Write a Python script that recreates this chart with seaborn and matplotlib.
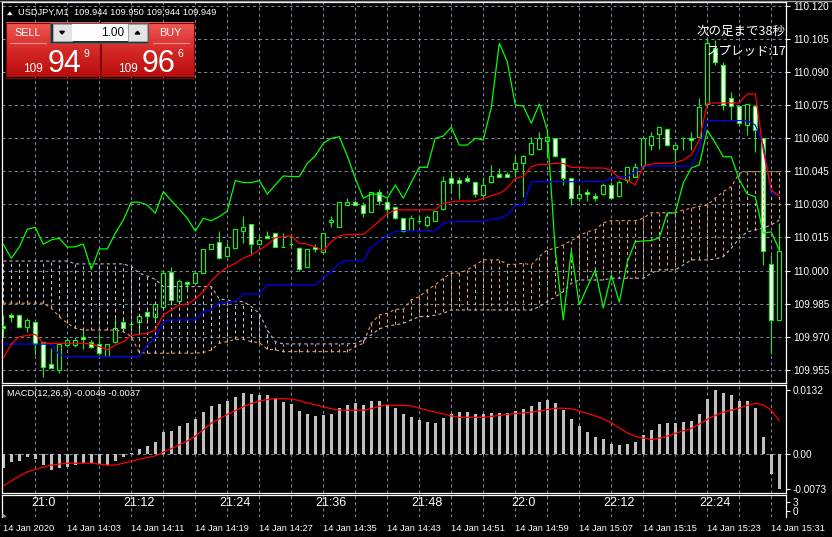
import matplotlib
matplotlib.use('Agg')
import numpy as np
import pandas as pd
import matplotlib.pyplot as plt
from matplotlib.patches import Rectangle, Polygon
from matplotlib.colors import LinearSegmentedColormap
import seaborn as sns

# %%
# USDJPY M1 bars (one row of ten bars per line)
opens = [
    109.9749, 109.9798, 109.9798, 109.9745, 109.9765, 109.9675, 109.9576, 109.9549, 109.9662, 109.9662,
    109.9697, 109.9675, 109.9666, 109.9614, 109.9675, 109.9765, 109.9756, 109.9765, 109.9813, 109.9788,
    109.9836, 109.9995, 109.9863, 109.9947, 109.9945, 109.9988, 110.0096, 110.0128, 110.0067, 110.0104,
    110.0178, 110.0210, 110.0119, 110.0157, 110.0169, 110.0108, 110.0120, 110.0104, 110.0018, 110.0108,
    110.0086, 110.0219, 110.0196, 110.0296, 110.0310, 110.0297, 110.0267, 110.0358, 110.0310, 110.0287,
    110.0237, 110.0184, 110.0226, 110.0207, 110.0226, 110.0278, 110.0418, 110.0411, 110.0418, 110.0400,
    110.0343, 110.0400, 110.0438, 110.0438, 110.0459, 110.0486, 110.0529, 110.0550, 110.0589, 110.0600,
    110.0509, 110.0418, 110.0328, 110.0358, 110.0339, 110.0346, 110.0388, 110.0338, 110.0411, 110.0426,
    110.0474, 110.0569, 110.0618, 110.0642, 110.0550, 110.0600, 110.0601, 110.0607, 110.0755, 110.1008,
    110.0932, 110.0781, 110.0746, 110.0660, 110.0748, 110.0603, 110.0030, 109.9776]
highs = [
    109.9798, 109.9809, 109.9803, 109.9785, 109.9765, 109.9677, 109.9648, 109.9667, 109.9693, 109.9700,
    109.9734, 109.9685, 109.9712, 109.9666, 109.9784, 109.9784, 109.9768, 109.9803, 109.9821, 109.9859,
    110.0003, 110.0018, 109.9960, 109.9954, 110.0000, 110.0096, 110.0119, 110.0179, 110.0126, 110.0187,
    110.0247, 110.0210, 110.0157, 110.0179, 110.0172, 110.0169, 110.0161, 110.0108, 110.0098, 110.0119,
    110.0172, 110.0247, 110.0310, 110.0328, 110.0320, 110.0312, 110.0358, 110.0369, 110.0329, 110.0290,
    110.0237, 110.0252, 110.0252, 110.0252, 110.0270, 110.0430, 110.0453, 110.0426, 110.0433, 110.0400,
    110.0423, 110.0479, 110.0464, 110.0448, 110.0524, 110.0524, 110.0604, 110.0630, 110.0630, 110.0600,
    110.0509, 110.0418, 110.0388, 110.0369, 110.0350, 110.0399, 110.0403, 110.0411, 110.0471, 110.0486,
    110.0600, 110.0630, 110.0650, 110.0642, 110.0569, 110.0607, 110.0630, 110.0784, 110.1061, 110.1046,
    110.0947, 110.0811, 110.0751, 110.0755, 110.0748, 110.0603, 110.0071, 110.0214]
lows = [
    109.9700, 109.9768, 109.9740, 109.9723, 109.9617, 109.9519, 109.9557, 109.9534, 109.9655, 109.9655,
    109.9643, 109.9648, 109.9617, 109.9614, 109.9670, 109.9730, 109.9738, 109.9723, 109.9761, 109.9768,
    109.9833, 109.9844, 109.9859, 109.9912, 109.9942, 109.9988, 110.0096, 110.0052, 110.0063, 110.0101,
    110.0126, 110.0071, 110.0119, 110.0146, 110.0106, 110.0106, 110.0108, 109.9999, 110.0018, 110.0086,
    110.0078, 110.0199, 110.0196, 110.0296, 110.0297, 110.0244, 110.0267, 110.0297, 110.0244, 110.0232,
    110.0176, 110.0184, 110.0214, 110.0199, 110.0226, 110.0275, 110.0350, 110.0323, 110.0403, 110.0335,
    110.0328, 110.0396, 110.0423, 110.0423, 110.0426, 110.0335, 110.0524, 110.0547, 110.0509, 110.0516,
    110.0388, 110.0297, 110.0317, 110.0317, 110.0317, 110.0343, 110.0328, 110.0335, 110.0396, 110.0423,
    110.0464, 110.0547, 110.0550, 110.0565, 110.0471, 110.0547, 110.0547, 110.0607, 110.0751, 110.0932,
    110.0728, 110.0683, 110.0660, 110.0615, 110.0539, 110.0025, 109.9620, 109.9776]
closes = [
    109.9740, 109.9789, 109.9745, 109.9776, 109.9667, 109.9564, 109.9557, 109.9667, 109.9685, 109.9685,
    109.9688, 109.9652, 109.9625, 109.9666, 109.9738, 109.9738, 109.9756, 109.9795, 109.9795, 109.9847,
    109.9988, 109.9867, 109.9954, 109.9938, 109.9988, 110.0096, 110.0119, 110.0056, 110.0106, 110.0187,
    110.0196, 110.0119, 110.0139, 110.0146, 110.0106, 110.0108, 110.0120, 110.0006, 110.0098, 110.0098,
    110.0169, 110.0229, 110.0310, 110.0310, 110.0297, 110.0260, 110.0358, 110.0317, 110.0278, 110.0237,
    110.0179, 110.0237, 110.0226, 110.0244, 110.0270, 110.0408, 110.0399, 110.0399, 110.0408, 110.0347,
    110.0388, 110.0429, 110.0426, 110.0426, 110.0486, 110.0520, 110.0577, 110.0600, 110.0607, 110.0520,
    110.0418, 110.0328, 110.0347, 110.0346, 110.0328, 110.0388, 110.0328, 110.0400, 110.0468, 110.0468,
    110.0600, 110.0610, 110.0650, 110.0569, 110.0569, 110.0600, 110.0592, 110.0740, 110.1031, 110.0947,
    110.0751, 110.0746, 110.0668, 110.0755, 110.0637, 110.0089, 109.9776, 110.0089]

# Ichimoku lines
tenkan = [
    109.9602, 109.9667, 109.9700, 109.9705, 109.9711, 109.9670, 109.9670, 109.9670, 109.9670, 109.9670,
    109.9670, 109.9667, 109.9655, 109.9640, 109.9662, 109.9677, 109.9705, 109.9711, 109.9715, 109.9730,
    109.9798, 109.9821, 109.9844, 109.9848, 109.9871, 109.9904, 109.9953, 109.9988, 110.0015, 110.0033,
    110.0056, 110.0071, 110.0093, 110.0116, 110.0149, 110.0154, 110.0157, 110.0124, 110.0120, 110.0108,
    110.0089, 110.0131, 110.0157, 110.0164, 110.0164, 110.0164, 110.0192, 110.0225, 110.0257, 110.0275,
    110.0275, 110.0275, 110.0275, 110.0275, 110.0275, 110.0305, 110.0312, 110.0315, 110.0315, 110.0315,
    110.0328, 110.0338, 110.0350, 110.0373, 110.0418, 110.0426, 110.0471, 110.0482, 110.0482, 110.0486,
    110.0486, 110.0468, 110.0468, 110.0465, 110.0465, 110.0465, 110.0456, 110.0418, 110.0411, 110.0388,
    110.0474, 110.0483, 110.0486, 110.0486, 110.0489, 110.0501, 110.0524, 110.0592, 110.0760, 110.0760,
    110.0760, 110.0760, 110.0760, 110.0801, 110.0801, 110.0547, 110.0365, 110.0338]
kijun = [
    109.9666, 109.9666, 109.9666, 109.9666, 109.9666, 109.9666, 109.9666, 109.9617, 109.9609, 109.9609,
    109.9609, 109.9609, 109.9609, 109.9609, 109.9609, 109.9609, 109.9609, 109.9609, 109.9662, 109.9693,
    109.9768, 109.9776, 109.9776, 109.9776, 109.9776, 109.9813, 109.9824, 109.9852, 109.9856, 109.9859,
    109.9894, 109.9894, 109.9894, 109.9935, 109.9935, 109.9935, 109.9935, 109.9935, 109.9935, 109.9935,
    109.9965, 109.9995, 110.0033, 110.0045, 110.0045, 110.0045, 110.0108, 110.0130, 110.0161, 110.0176,
    110.0181, 110.0181, 110.0181, 110.0181, 110.0181, 110.0214, 110.0222, 110.0222, 110.0222, 110.0222,
    110.0222, 110.0233, 110.0237, 110.0252, 110.0297, 110.0297, 110.0403, 110.0403, 110.0403, 110.0403,
    110.0403, 110.0403, 110.0403, 110.0403, 110.0403, 110.0403, 110.0418, 110.0426, 110.0426, 110.0448,
    110.0474, 110.0474, 110.0474, 110.0474, 110.0474, 110.0474, 110.0474, 110.0554, 110.0680, 110.0680,
    110.0680, 110.0680, 110.0680, 110.0680, 110.0660, 110.0569, 110.0350, 110.0339]
span_a = [
    109.9852, 109.9852, 109.9852, 109.9852, 109.9852, 109.9852, 109.9829, 109.9791, 109.9761, 109.9738,
    109.9730, 109.9730, 109.9730, 109.9730, 109.9730, 109.9723, 109.9700, 109.9628, 109.9625, 109.9625,
    109.9625, 109.9625, 109.9625, 109.9625, 109.9625, 109.9628, 109.9640, 109.9670, 109.9677, 109.9688,
    109.9688, 109.9677, 109.9673, 109.9643, 109.9640, 109.9632, 109.9632, 109.9632, 109.9632, 109.9632,
    109.9632, 109.9632, 109.9632, 109.9632, 109.9655, 109.9670, 109.9761, 109.9798, 109.9806, 109.9824,
    109.9824, 109.9867, 109.9881, 109.9912, 109.9935, 109.9965, 109.9988, 109.9988, 110.0003, 110.0025,
    110.0048, 110.0048, 110.0048, 110.0028, 110.0028, 110.0033, 110.0025, 110.0063, 110.0093, 110.0101,
    110.0116, 110.0135, 110.0157, 110.0176, 110.0184, 110.0217, 110.0226, 110.0226, 110.0226, 110.0226,
    110.0237, 110.0262, 110.0262, 110.0262, 110.0262, 110.0275, 110.0282, 110.0290, 110.0297, 110.0328,
    110.0358, 110.0380, 110.0441, 110.0448, 110.0448, 110.0448, 110.0448, 110.0448]
span_b = [
    110.0043, 110.0043, 110.0043, 110.0043, 110.0043, 110.0043, 110.0043, 110.0043, 110.0043, 110.0030,
    110.0030, 110.0030, 110.0030, 110.0030, 110.0030, 110.0030, 110.0018, 109.9988, 109.9975, 109.9960,
    109.9927, 109.9927, 109.9927, 109.9927, 109.9927, 109.9927, 109.9927, 109.9871, 109.9867, 109.9859,
    109.9859, 109.9836, 109.9806, 109.9730, 109.9677, 109.9667, 109.9667, 109.9667, 109.9667, 109.9667,
    109.9667, 109.9667, 109.9667, 109.9667, 109.9670, 109.9685, 109.9708, 109.9735, 109.9749, 109.9753,
    109.9761, 109.9776, 109.9791, 109.9791, 109.9798, 109.9806, 109.9821, 109.9821, 109.9821, 109.9821,
    109.9821, 109.9821, 109.9821, 109.9821, 109.9821, 109.9821, 109.9821, 109.9836, 109.9859, 109.9881,
    109.9904, 109.9942, 109.9957, 109.9957, 109.9957, 109.9957, 109.9965, 109.9965, 109.9965, 109.9965,
    109.9965, 109.9988, 110.0003, 110.0003, 110.0003, 110.0025, 110.0048, 110.0048, 110.0048, 110.0052,
    110.0063, 110.0101, 110.0146, 110.0175, 110.0184, 110.0193, 110.0207, 110.0229]
# lagging span beyond the closes that are on screen
chikou_tail = [
    109.9844, 109.9925, 110.0003, 109.9830, 109.9980, 109.9857, 110.0039, 110.0131, 110.0134, 110.0136,
    110.0148, 110.0261, 110.0261, 110.0397, 110.0465, 110.0479, 110.0637, 110.0579, 110.0516, 110.0516,
    110.0411, 110.0347, 110.0334, 110.0170, 110.0175, 110.0093]

# MACD(12,26,9)
macd_hist = [
    -0.0030, -0.0017, -0.0014, -0.0007, -0.0010, -0.0022, -0.0033, -0.0030, -0.0027, -0.0023,
    -0.0019, -0.0019, -0.0021, -0.0023, -0.0014, -0.0006, 0.0003, 0.0010, 0.0017, 0.0025,
    0.0046, 0.0048, 0.0058, 0.0064, 0.0073, 0.0087, 0.0099, 0.0104, 0.0110, 0.0118,
    0.0126, 0.0124, 0.0122, 0.0122, 0.0114, 0.0108, 0.0104, 0.0089, 0.0084, 0.0079,
    0.0081, 0.0084, 0.0095, 0.0102, 0.0105, 0.0102, 0.0109, 0.0109, 0.0102, 0.0096,
    0.0084, 0.0077, 0.0071, 0.0066, 0.0065, 0.0075, 0.0082, 0.0087, 0.0087, 0.0084,
    0.0082, 0.0085, 0.0085, 0.0086, 0.0089, 0.0093, 0.0100, 0.0108, 0.0112, 0.0106,
    0.0091, 0.0073, 0.0058, 0.0046, 0.0035, 0.0031, 0.0021, 0.0019, 0.0021, 0.0025,
    0.0039, 0.0050, 0.0063, 0.0065, 0.0065, 0.0067, 0.0068, 0.0082, 0.0114, 0.0132,
    0.0127, 0.0122, 0.0111, 0.0109, 0.0095, 0.0036, -0.0041, -0.0073]
macd_signal = [
    -0.0066, -0.0056, -0.0046, -0.0037, -0.0032, -0.0027, -0.0023, -0.0021, -0.0019, -0.0019,
    -0.0019, -0.0019, -0.0021, -0.0023, -0.0023, -0.0019, -0.0015, -0.0011, -0.0007, -0.0004,
    0.0004, 0.0011, 0.0019, 0.0027, 0.0037, 0.0050, 0.0064, 0.0073, 0.0082, 0.0090,
    0.0098, 0.0105, 0.0110, 0.0113, 0.0115, 0.0115, 0.0114, 0.0111, 0.0106, 0.0102,
    0.0098, 0.0094, 0.0091, 0.0091, 0.0091, 0.0091, 0.0094, 0.0099, 0.0102, 0.0101,
    0.0101, 0.0100, 0.0095, 0.0091, 0.0087, 0.0083, 0.0079, 0.0076, 0.0076, 0.0076,
    0.0076, 0.0078, 0.0080, 0.0082, 0.0084, 0.0085, 0.0087, 0.0089, 0.0092, 0.0095,
    0.0095, 0.0094, 0.0089, 0.0084, 0.0079, 0.0073, 0.0065, 0.0054, 0.0044, 0.0037,
    0.0033, 0.0030, 0.0033, 0.0037, 0.0043, 0.0048, 0.0053, 0.0062, 0.0072, 0.0080,
    0.0087, 0.0091, 0.0095, 0.0101, 0.0105, 0.0102, 0.0091, 0.0069]

price_ticks = [110.120, 110.105, 110.090, 110.075, 110.060, 110.045, 110.030,
               110.015, 110.000, 109.985, 109.970, 109.955]
macd_ticks = [0.0132, 0.0, -0.0073]
macd_tick_labels = ['0.0132', '0.00', '-0.0073']
time_labels = ['14 Jan 2020', '14 Jan 14:03', '14 Jan 14:11', '14 Jan 14:19', '14 Jan 14:27',
               '14 Jan 14:35', '14 Jan 14:43', '14 Jan 14:51', '14 Jan 14:59', '14 Jan 15:07',
               '14 Jan 15:15', '14 Jan 15:23', '14 Jan 15:31']
clock_labels = ['21:0', '21:12', '21:24', '21:36', '21:48', '22:0', '22:12', '22:24']
clock_bars = [5, 17, 29, 41, 53, 65, 77, 89]

# %%
df = pd.DataFrame({'open': opens, 'high': highs, 'low': lows, 'close': closes,
                   'tenkan': tenkan, 'kijun': kijun, 'span_a': span_a, 'span_b': span_b,
                   'hist': macd_hist, 'signal': macd_signal})
df['bar'] = np.arange(len(df))
df['chikou'] = closes[26:] + chikou_tail

W, H = 832, 537
LIME = '#00ff00'
GRID = '#778899'
SANDY = '#f4a460'
THISTLE = '#d8bfd8'
DASH = (0, (2.2, 2.2))
SANS = ['Liberation Sans', 'DejaVu Sans']
JP = ['Noto Sans CJK JP', 'DejaVu Sans']
SMALL = 7.2   # axis labels
TINY = 6.7    # header / time labels

sns.set_theme(style='dark', rc={'axes.facecolor': 'black', 'figure.facecolor': 'black',
                                'axes.edgecolor': 'white', 'text.color': 'white'})
plt.rcParams['font.family'] = SANS
plt.rcParams['lines.scale_dashes'] = False

fig = plt.figure(figsize=(W / 100, H / 100), dpi=100)


def pane(x0, y0, x1, y1):
    a = fig.add_axes([x0 / W, 1 - y1 / H, (x1 - x0) / W, (y1 - y0) / H])
    a.set_facecolor('black')
    for s in a.spines.values():
        s.set_color('white')
        s.set_linewidth(0.9)
    return a


XLIM = (-0.225, 97.84)
grid_bars = list(range(4, 98, 4))

# ---- price pane
ax = pane(1.5, 2, 786, 382.5)
ax.set_xlim(*XLIM)
ax.set_ylim(109.9492, 110.1218)
for p in price_ticks:
    ax.axhline(p, color=GRID, lw=0.75, ls=DASH, zorder=0)
ax.vlines(grid_bars, 109.9492, 110.1218, color=GRID, lw=0.75, linestyles=DASH, zorder=0)

bull = df['close'] >= df['open']
ax.vlines(df['bar'], df['low'], df['high'], color=LIME, lw=0.8, zorder=2)
ax.bar(df['bar'], (df['close'] - df['open']).abs(), bottom=np.minimum(df['open'], df['close']),
       width=0.55, color=np.where(bull, 'black', 'white'), edgecolor=LIME, linewidth=0.8, zorder=3)

# cloud hatching between the spans
hatch_col = np.where(df['span_a'] > df['span_b'], SANDY, THISTLE)
ax.vlines(df['bar'], df['span_a'], df['span_b'], colors=hatch_col, lw=0.75, linestyles=DASH, zorder=4)
sns.lineplot(data=df, x='bar', y='span_a', color=SANDY, lw=0.75, ls=DASH, estimator=None, ax=ax, zorder=4)
sns.lineplot(data=df, x='bar', y='span_b', color=THISTLE, lw=0.75, ls=DASH, estimator=None, ax=ax, zorder=4)
sns.lineplot(data=df, x='bar', y='chikou', color=LIME, lw=0.9, estimator=None, ax=ax, zorder=5)
sns.lineplot(data=df, x='bar', y='kijun', color='#0000ff', lw=0.9, estimator=None, ax=ax, zorder=5)
sns.lineplot(data=df, x='bar', y='tenkan', color='red', lw=0.9, estimator=None, ax=ax, zorder=5)
ax.set_xlim(*XLIM)
ax.set_ylim(109.9492, 110.1218)
ax.set_xlabel('')
ax.set_ylabel('')
ax.set_xticks([])
ax.yaxis.tick_right()
ax.set_yticks(price_ticks)
ax.set_yticklabels([f'{p:.3f}' for p in price_ticks])
ax.tick_params(axis='y', colors='white', length=3, width=0.8, pad=2, labelsize=SMALL)

# ---- MACD pane
axm = pane(1.5, 384.5, 786, 493.3)
sns.barplot(data=df, x='bar', y='hist', native_scale=True, color='#c0c0c0', saturation=1,
            width=0.4, errorbar=None, linewidth=0, ax=axm, zorder=2)
sns.lineplot(data=df, x='bar', y='signal', color='red', lw=0.9, estimator=None, ax=axm, zorder=3)
axm.axhline(0, color=GRID, lw=0.75, ls=DASH, zorder=1)
axm.vlines(grid_bars, -0.00815, 0.01442, color=GRID, lw=0.75, linestyles=DASH, zorder=0)
axm.set_xlim(*XLIM)
axm.set_ylim(-0.00815, 0.01442)
axm.set_xlabel('')
axm.set_ylabel('')
axm.set_xticks([])
axm.yaxis.tick_right()
axm.set_yticks(macd_ticks)
axm.set_yticklabels(macd_tick_labels)
axm.tick_params(axis='y', colors='white', length=3, width=0.8, pad=2, labelsize=SMALL)

# ---- clock strip + time axis
axs = pane(1.5, 495.3, 786, 517.3)
axs.spines['bottom'].set_visible(False)
axs.set_xlim(*XLIM)
axs.set_ylim(-2.1, 5.23)
axs.vlines(grid_bars, -2.1, 5.23, color=GRID, lw=0.75, linestyles=DASH, zorder=0)
for b, t in zip(clock_bars, clock_labels):
    axs.text(b, 0.66, t, transform=axs.get_xaxis_transform(), ha='center', va='center',
             fontsize=9, color='white')
axs.yaxis.tick_right()
axs.set_yticks([3, 0])
axs.set_yticklabels(['3', '0'])
axs.set_xticks(list(range(0, 98, 8)))
axs.set_xticklabels(time_labels, ha='left')
axs.tick_params(axis='y', colors='white', length=3, width=0.8, pad=2, labelsize=SMALL)
axs.tick_params(axis='x', colors='white', length=3.5, width=0.8, pad=1.5, labelsize=TINY)

# ---- chrome drawn in pixel coordinates
ov = fig.add_axes([0, 0, 1, 1], zorder=10)
ov.axis('off')
ov.plot([0, W], [0.5, 0.5], color='#a0a0a0', lw=1)
ov.add_patch(Polygon([(7, 15.2), (12.6, 15.2), (9.8, 11.4)], closed=True, color='white', lw=0))
ov.text(18.5, 12.8, 'USDJPY,M1  109.944 109.950 109.944 109.949', fontsize=TINY, color='white',
        va='center')
ov.text(7.3, 393.8, 'MACD(12,26,9) -0.0049 -0.0037', fontsize=TINY, color='white', va='center')
ov.text(786, 31.7, '次の足まで38秒', fontsize=9, color='white', ha='right', va='center', family=JP)
ov.text(786, 51.7, 'スプレッド:17', fontsize=9, color='white', ha='right', va='center', family=JP)
ov.add_patch(Polygon([(2.5, 517.3), (7, 517.3), (2.5, 512.8)], closed=True, color='#8a9aa8', lw=0))

reds = LinearSegmentedColormap.from_list('btn', ['#ee5a56', '#d62a28', '#b80c0c'])
grad = np.linspace(0, 1, 64)[:, None]
for x0, x1 in [(6, 99.5), (101, 193.5)]:
    ov.imshow(grad, cmap=reds, extent=(x0, x1, 77.5, 22.5), aspect='auto', zorder=1)
    ov.add_patch(Rectangle((x0, 22.5), x1 - x0, 55, fill=False, ec='#7a0808', lw=0.8, zorder=2))

# lot size box
ov.add_patch(Rectangle((50, 22.5), 98, 20.5, fc='#2e2e2e', ec='#5a5a5a', lw=0.8, zorder=3))
ov.add_patch(Rectangle((52.7, 24.3), 19, 17.2, fc='#e4e4e4', ec='#b0b0b0', lw=0.5, zorder=4))
ov.add_patch(Rectangle((71.7, 24.3), 56.3, 17.2, fc='white', lw=0, zorder=4))
ov.add_patch(Rectangle((128.3, 24.3), 18.4, 17.2, fc='#e4e4e4', ec='#b0b0b0', lw=0.5, zorder=4))
ov.add_patch(Polygon([(59.8, 31.3), (64.4, 31.3), (62.1, 34)], closed=True, color='black', zorder=5))
ov.add_patch(Polygon([(135.2, 34), (139.8, 34), (137.5, 31.3)], closed=True, color='black', zorder=5))
ov.text(124.5, 32.8, '1.00', fontsize=8.5, color='black', ha='right', va='center', zorder=5)

# sell / buy labels and quotes
ov.text(27.5, 33, 'SELL', fontsize=7.8, color='white', ha='center', va='center', zorder=5)
ov.text(170, 33, 'BUY', fontsize=7.8, color='white', ha='center', va='center', zorder=5)
ov.plot([10, 46], [43, 43], color='#f29090', lw=0.8, zorder=5)
ov.plot([152.7, 189.3], [43, 43], color='#f29090', lw=0.8, zorder=5)
for cx, big, sup, small_x in [(64.2, '94', '9', 33.3), (158.3, '96', '6', 127.5)]:
    ov.text(cx, 71.8, big, fontsize=22, color='white', ha='center', va='baseline', zorder=5)
    ov.text(cx + 22.5, 56.8, sup, fontsize=7.5, color='white', ha='center', va='baseline', zorder=5)
    ov.text(small_x, 71.8, '109', fontsize=8.5, color='white', ha='center', va='baseline', zorder=5)

ov.set_xlim(0, W)
ov.set_ylim(H, 0)

fig.savefig('out.png', dpi=100, facecolor='black')
